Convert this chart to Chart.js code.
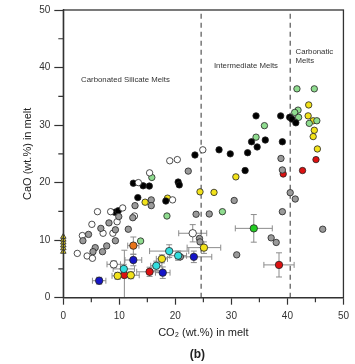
<!DOCTYPE html>
<html>
<head>
<meta charset="utf-8">
<script src="https://cdn.jsdelivr.net/npm/chart.js@4.4.1/dist/chart.umd.min.js"></script>
<style>
html,body{margin:0;padding:0;background:#fff}
canvas{display:block}
</style>
</head>
<body>
<canvas id="c" width="355" height="364"></canvas>
<script>
// melt compositions, [CO2 wt.%, CaO wt.%]
const blackPts = [[12.5,19.9],[14.25,19.45],[15.35,19.4],[20.5,20.1],[20.7,19.6],[13.3,17.4],[18.3,16.8],
  [9.2,14.85],[9.8,15.1],[23.5,24.8],[27.8,25.7],[29.8,25.0],[32.9,25.2],[32.45,22.1],[33.6,27.1],
  [34.6,26.2],[36.05,27.4],[39.1,27.1],[34.4,31.6],[38.8,31.6],[40.4,31.35],[40.8,31.05],[41.5,30.4]];
const whitePts = [[19.0,23.8],[20.35,24.0],[15.4,21.7],[13.4,20.0],[24.9,25.7],[19.5,17.0],[6.1,14.95],
  [10.6,15.6],[8.45,14.95],[12.7,14.2],[9.6,13.2],[5.1,12.75],[7.1,11.2],[8.85,11.2],[3.4,10.8],
  [2.5,7.7],[4.25,7.25],[5.2,6.85]];
const grayPts = [[15.7,17.0],[15.7,16.0],[12.8,16.0],[12.4,13.9],[9.9,14.1],[8.15,13.0],[6.7,12.05],
  [9.3,11.8],[11.6,11.9],[4.5,11.0],[3.5,9.9],[9.3,9.9],[7.75,9.0],[5.7,8.7],[5.3,8.0],[7.0,8.0],
  [22.3,22.0],[23.7,14.5],[26.05,14.55],[30.5,16.9],[24.3,10.3],[24.4,9.7],[30.95,7.45],[39.1,22.2],
  [38.85,24.2],[40.5,18.25],[41.4,17.15],[39.1,14.95],[46.3,11.9],[37.1,10.4],[38.0,9.6],[20.9,7.1]];
const greenPts = [[15.8,20.9],[18.5,14.2],[13.8,9.85],[28.4,14.95],[34.4,27.9],[35.9,29.9],[41.7,36.3],
  [44.8,36.3],[41.9,32.6],[41.3,32.2],[42.0,31.35],[43.9,30.3],[45.25,30.75]];
const yellowPts = [[14.6,16.6],[18.6,17.3],[24.4,18.4],[26.9,18.3],[30.8,21.0],[43.8,33.5],[43.7,31.6],
  [44.6,30.75],[44.8,29.1],[44.6,28.0],[45.35,25.85]];
const redPts = [[45.1,24.0],[39.25,21.5],[42.7,22.1]];
const zeroCO2Pts = [[0,8.0],[0,8.6],[0,9.1],[0,9.6],[0,10.1],[0,10.6]];

// points with uncertainties, [CO2, CaO, ±CO2, ±CaO]
const errBlue = [[6.4,2.95,1.2,0.6],[12.5,6.55,1.5,1.0],[17.75,4.35,1.3,1.0],[23.3,7.1,3.2,1.0]];
const errCyan = [[10.8,5.0,1.9,0.8],[16.6,5.55,1.0,0.8],[18.9,8.1,3.5,1.1],[20.5,7.3,1.5,0.8]];
const errOrange = [[12.5,9.05,1.0,1.5]];
const errRed = [[10.9,3.95,1.5,4.3],[15.4,4.5,2.3,0.8],[38.5,5.7,2.7,2.1]];
const errYellow = [[9.7,3.8,1.0,0.6],[12.05,3.9,1.5,0.6],[17.6,6.75,1.0,0.7],[25.1,8.7,3.0,1.0]];
const errWhite = [[9.0,5.8,1.2,0.6],[23.1,11.2,2.5,1.5]];
const errGreen = [[34.0,12.05,3.3,2.4]];

// melt-type boundaries (CO2 wt.%)
const meltBounds = [24.6, 40.5];

function pts(a) { return a.map(p => ({x: p[0], y: p[1]})); }

function dots(arr, fill, extra) {
  return Object.assign({
    data: pts(arr),
    backgroundColor: fill,
    borderColor: '#222',
    borderWidth: 0.8,
    pointRadius: 3.2,
    pointHoverRadius: 3.2,
    clip: false,
    order: 2
  }, extra || {});
}

function errDots(arr, fill) {
  return dots(arr, fill, {err: arr.map(p => [p[2], p[3]]), pointRadius: 3.7, order: 1});
}

const datasets = [];
meltBounds.forEach(b => {
  datasets.push({
    type: 'line',
    data: [{x: b, y: 0}, {x: b, y: 50}],
    borderColor: '#555',
    borderWidth: 1.2,
    borderDash: [5, 4],
    pointRadius: 0,
    order: 10
  });
});
datasets.push(dots(grayPts, '#9a9a9a'));
datasets.push(dots(whitePts, '#ffffff'));
datasets.push(dots(blackPts, '#000000'));
datasets.push(dots(greenPts, '#8fdc8f'));
datasets.push(dots(yellowPts, '#f2e21a'));
datasets.push(dots(redPts, '#dd1111'));
datasets.push(dots(zeroCO2Pts, '#e8d820', {pointStyle: 'triangle', pointRadius: 3.2}));
datasets.push(errDots(errWhite, '#ffffff'));
datasets.push(errDots(errOrange, '#e8751a'));
datasets.push(errDots(errCyan, '#33dddd'));
datasets.push(errDots(errYellow, '#f2e21a'));
datasets.push(errDots(errRed, '#dd1111'));
datasets.push(errDots(errBlue, '#1515c8'));
datasets.push(errDots(errGreen, '#22cc22'));

const errorBars = {
  id: 'errorBars',
  beforeDatasetsDraw(chart) {
    const {ctx} = chart;
    const xs = chart.scales.x, ys = chart.scales.y;
    ctx.save();
    ctx.strokeStyle = '#8c8c8c';
    ctx.lineWidth = 1;
    chart.data.datasets.forEach(ds => {
      if (!ds.err) return;
      ds.err.forEach((e, i) => {
        const p = ds.data[i];
        const cx = xs.getPixelForValue(p.x), cy = ys.getPixelForValue(p.y);
        const x0 = xs.getPixelForValue(p.x - e[0]), x1 = xs.getPixelForValue(p.x + e[0]);
        const y0 = ys.getPixelForValue(Math.max(0, p.y - e[1])), y1 = ys.getPixelForValue(p.y + e[1]);
        ctx.beginPath();
        ctx.moveTo(x0, cy); ctx.lineTo(x1, cy);
        ctx.moveTo(cx, y0); ctx.lineTo(cx, y1);
        ctx.moveTo(x0, cy - 3); ctx.lineTo(x0, cy + 3);
        ctx.moveTo(x1, cy - 3); ctx.lineTo(x1, cy + 3);
        ctx.moveTo(cx - 3, y0); ctx.lineTo(cx + 3, y0);
        ctx.moveTo(cx - 3, y1); ctx.lineTo(cx + 3, y1);
        ctx.stroke();
      });
    });
    ctx.restore();
  }
};

const frameAndText = {
  id: 'frameAndText',
  afterDraw(chart) {
    const {ctx, chartArea: a} = chart;
    const xs = chart.scales.x, ys = chart.scales.y;
    ctx.save();
    ctx.strokeStyle = '#333';
    ctx.lineWidth = 1.3;
    ctx.strokeRect(a.left, a.top, a.right - a.left, a.bottom - a.top);
    // minor ticks
    ctx.lineWidth = 1.2;
    ctx.beginPath();
    [5, 15, 25, 35, 45].forEach(v => {
      const px = xs.getPixelForValue(v), py = ys.getPixelForValue(v);
      ctx.moveTo(px, a.bottom); ctx.lineTo(px, a.bottom + 4.5);
      ctx.moveTo(a.left, py); ctx.lineTo(a.left - 5, py);
    });
    ctx.stroke();
    // region labels
    ctx.fillStyle = '#333';
    ctx.font = '7.8px "Liberation Sans", Arial, sans-serif';
    ctx.textBaseline = 'middle';
    ctx.textAlign = 'center';
    ctx.fillText('Carbonated Silicate Melts', xs.getPixelForValue(11.1), ys.getPixelForValue(37.8));
    ctx.fillText('Intermediate Melts', xs.getPixelForValue(32.6), ys.getPixelForValue(40.3));
    ctx.textAlign = 'left';
    ctx.fillText('Carbonatic', xs.getPixelForValue(41.45), ys.getPixelForValue(42.75));
    ctx.fillText('Melts', xs.getPixelForValue(41.45), ys.getPixelForValue(41.1));
    // panel caption
    ctx.textAlign = 'center';
    ctx.fillStyle = '#222';
    ctx.font = 'bold 12px "Liberation Sans", Arial, sans-serif';
    ctx.fillText('(b)', (a.left + a.right) / 2 - 6, 355);
    ctx.restore();
  }
};

const tickFont = {family: '"Liberation Sans", Arial, sans-serif', size: 10};
const titleFont = {family: '"Liberation Sans", Arial, sans-serif', size: 11};

new Chart(document.getElementById('c').getContext('2d'), {
  type: 'scatter',
  data: {datasets: datasets},
  options: {
    responsive: false,
    animation: false,
    events: [],
    layout: {padding: {left: 0, right: 5, top: 10, bottom: 0}},
    plugins: {legend: {display: false}, tooltip: {enabled: false}},
    scales: {
      x: {
        type: 'linear', min: 0, max: 50,
        afterFit: s => { s.height = 66.3; },
        ticks: {stepSize: 10, font: tickFont, color: '#333', padding: 6},
        grid: {drawOnChartArea: false, tickLength: 7, tickColor: '#333', tickWidth: 1.2},
        border: {color: '#333', width: 1.3},
        title: {display: true, text: 'CO\u2082 (wt.%) in melt', font: titleFont, color: '#222', padding: {bottom: 24.4}}
      },
      y: {
        type: 'linear', min: 0, max: 50,
        afterFit: s => { s.width = 63.3; },
        ticks: {stepSize: 10, font: tickFont, color: '#333', padding: 4},
        grid: {drawOnChartArea: false, tickLength: 9, tickColor: '#333', tickWidth: 1.2},
        border: {color: '#333', width: 1.3},
        title: {display: true, text: 'CaO (wt.%) in melt', font: titleFont, color: '#222', padding: {top: 21}}
      }
    }
  },
  plugins: [errorBars, frameAndText]
});
</script>
</body>
</html>
